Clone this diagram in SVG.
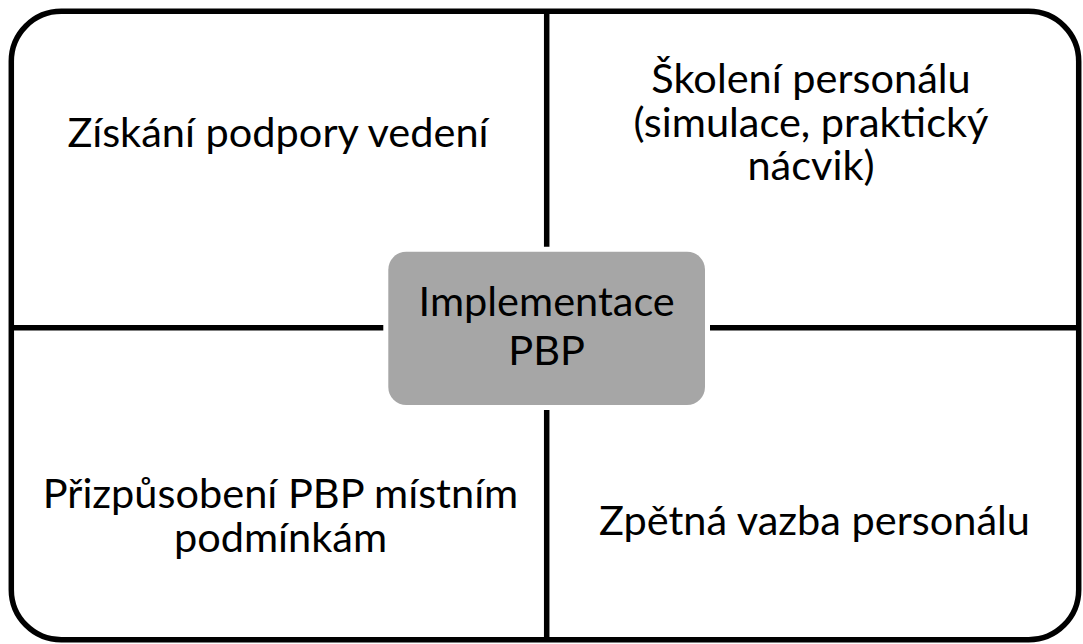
<svg xmlns="http://www.w3.org/2000/svg" width="1083" height="644" viewBox="0 0 1083 644">
  <style>
    .t { font-family: Lato, "Open Sans", "Liberation Sans", sans-serif; font-size: 41.5px; fill: #000; text-anchor: middle; }
    .ln { stroke: #000; stroke-width: 5.5; fill: none; }
  </style>
  <rect width="1083" height="644" fill="#fff"/>
  <g id="frame">
    <rect x="11.3" y="11.3" width="1067.4" height="628.4" rx="50" ry="50" fill="#fff" stroke="#000" stroke-width="5.5"/>
  </g>
  <g id="connectors">
    <line class="ln" x1="546.7" y1="11" x2="546.7" y2="640"/>
    <line class="ln" x1="11" y1="327.8" x2="1079" y2="327.8"/>
  </g>
  <g id="q1">
    <text class="t" x="278" y="146.7">Získání podpory vedení</text>
  </g>
  <g id="q2">
    <text class="t" y="93"><tspan x="811">Školení personálu</tspan><tspan x="811" dy="43.7">(simulace, praktický</tspan><tspan x="811" dy="43.3">nácvik)</tspan></text>
  </g>
  <g id="q3">
    <text class="t" y="508"><tspan x="280.5">Přizpůsobení PBP místním</tspan><tspan x="280.5" dy="43.7">podmínkám</tspan></text>
  </g>
  <g id="q4">
    <text class="t" x="814.5" y="535">Zpětná vazba personálu</text>
  </g>
  <g id="center">
    <rect x="388.3" y="251.7" width="316.7" height="153.3" rx="18" ry="18" fill="#a6a6a6" stroke="#fff" stroke-width="10" paint-order="stroke"/>
    <text class="t" y="316"><tspan x="546.7">Implementace</tspan><tspan x="546.7" dy="49">PBP</tspan></text>
  </g>
</svg>
